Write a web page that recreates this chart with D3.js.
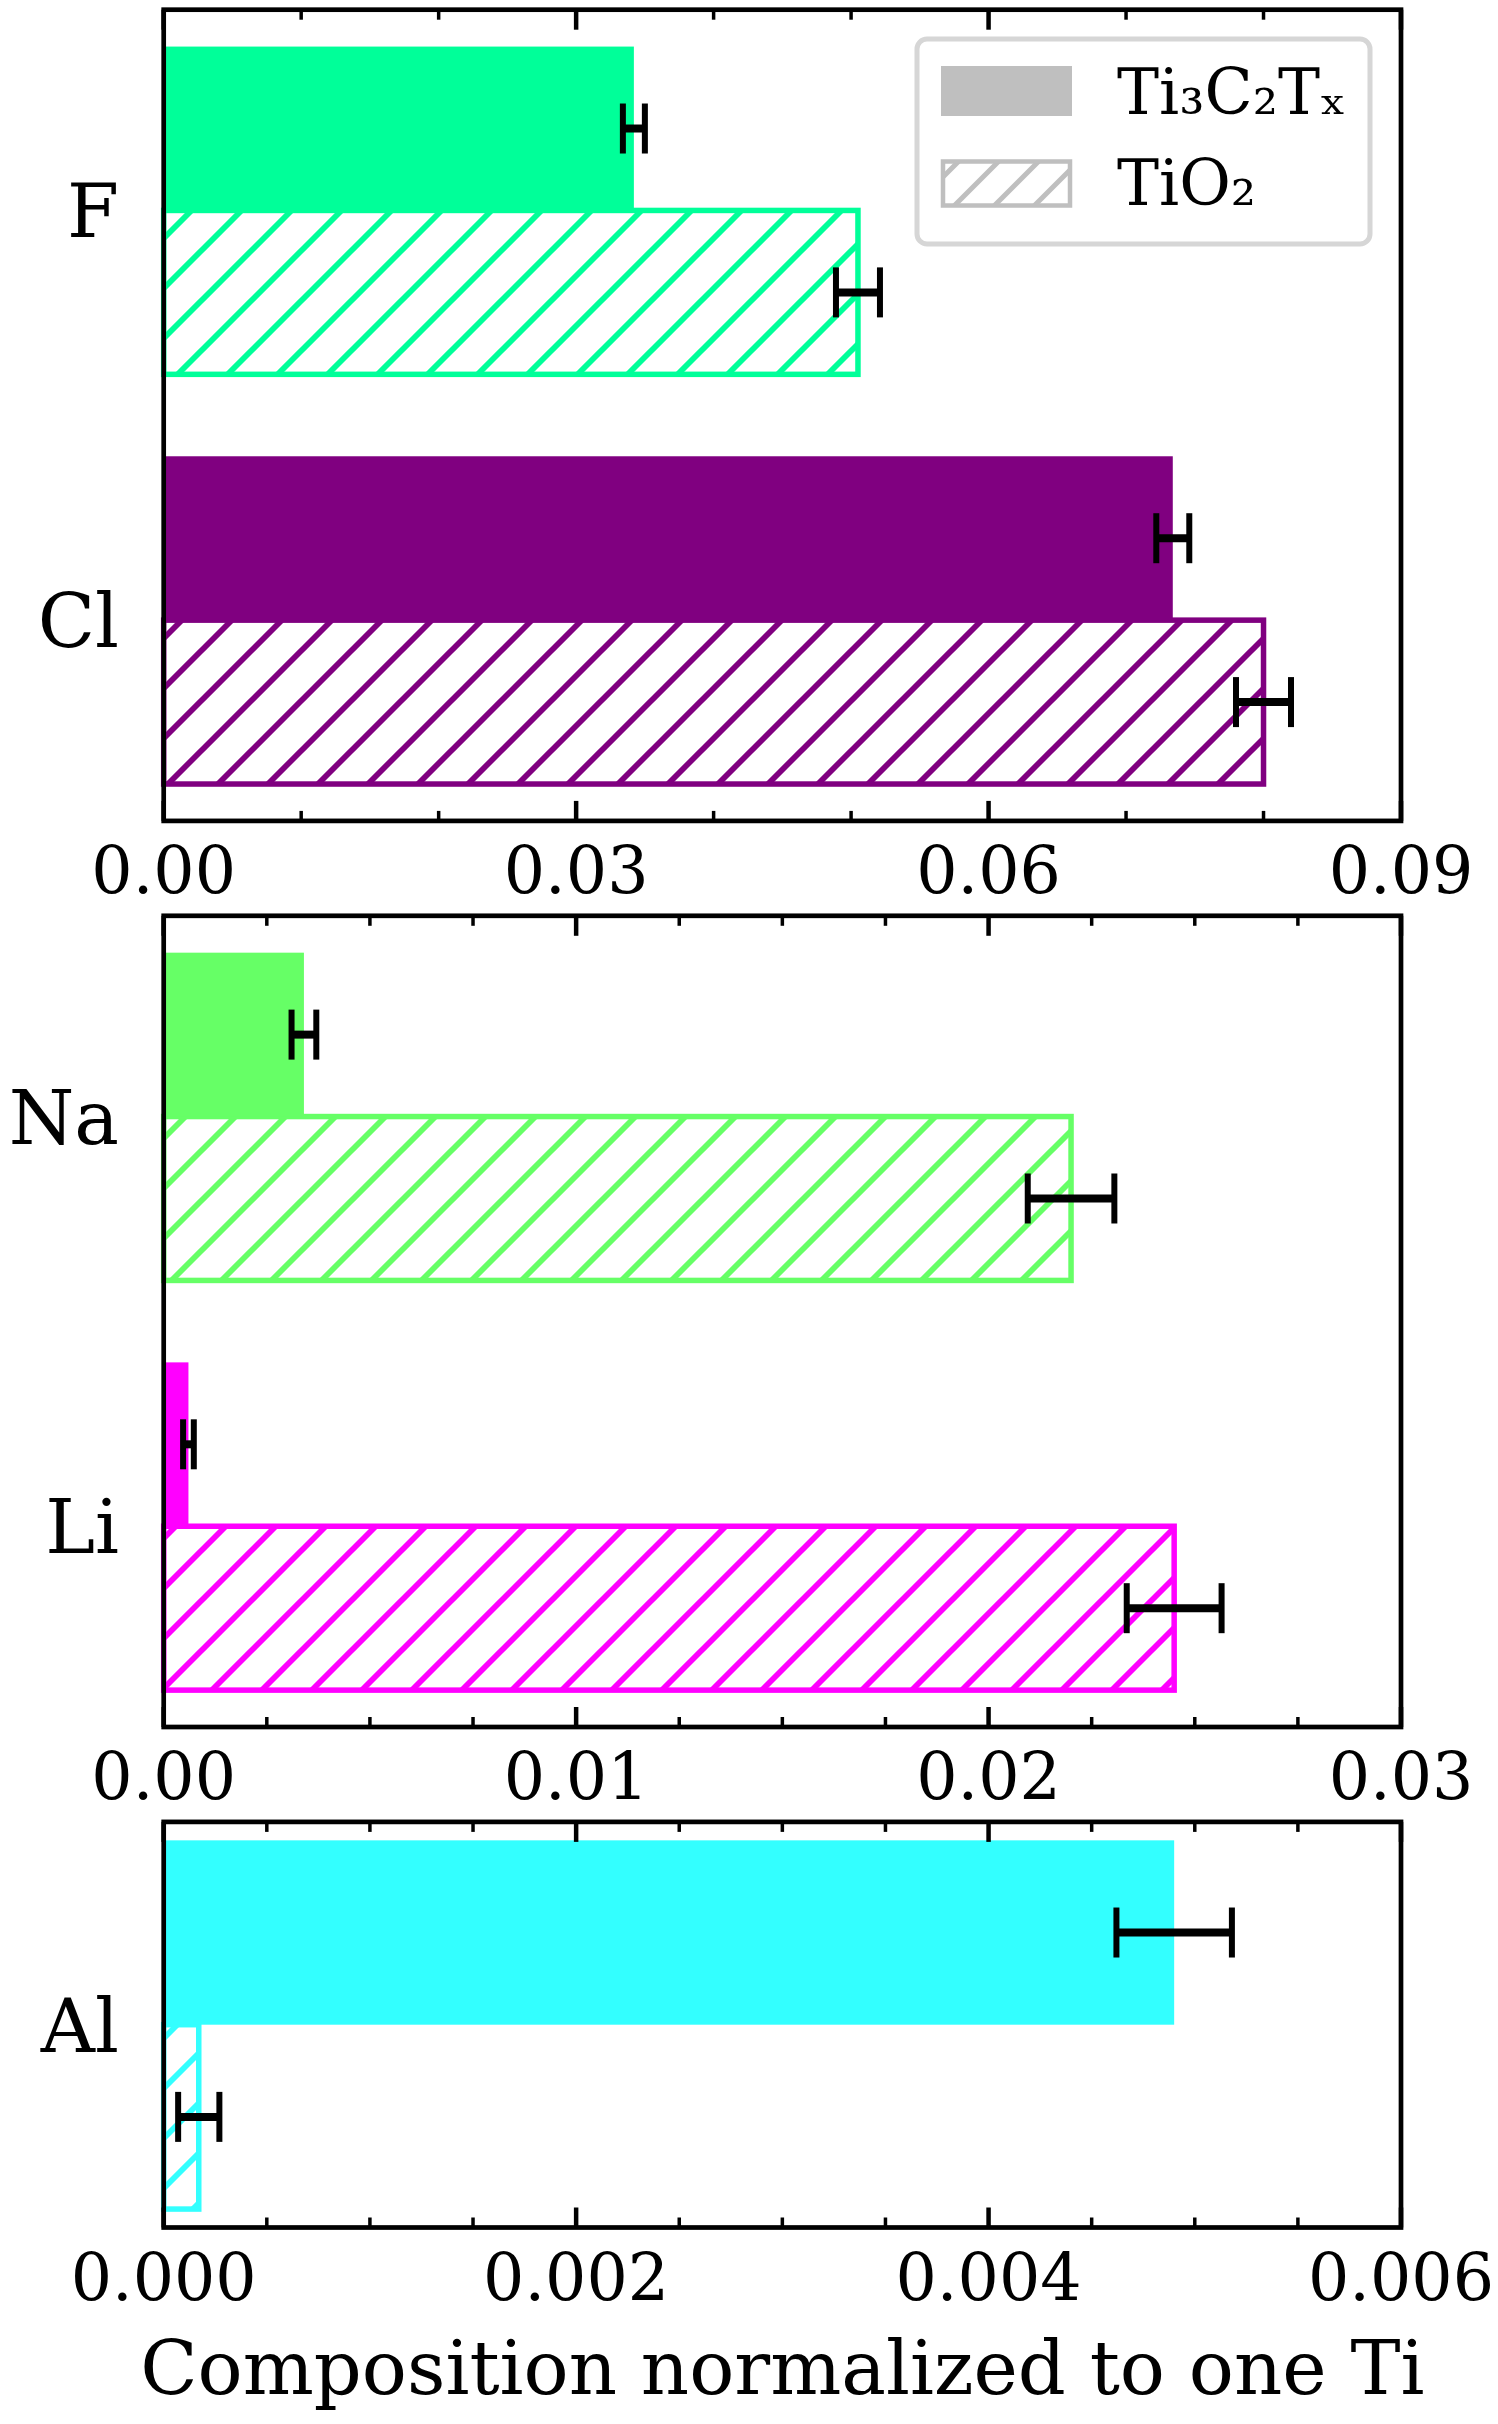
<!DOCTYPE html>
<html lang="en">
<head>
<meta charset="utf-8">
<title>Composition normalized to one Ti</title>
<script src="https://cdn.jsdelivr.net/npm/d3@7/dist/d3.min.js"></script>
<style>
  body { margin: 0; background: #fff; }
  text { font-family: "DejaVu Serif", serif; fill: #000; }
</style>
</head>
<body>
<script>

//****************************************************************************************************************************//
// Data

var elements    = ["F", "Cl", "Na", "Li", "Al"];
var panelOf     = [0, 0, 1, 1, 2];
var colors      = ["#00ff99", "#800080", "#66ff66", "#ff00ff", "#33ffff"];

var mxeneValues = [0.0342, 0.0734, 0.0034, 0.0006, 0.0049];
var mxeneErrors = [0.0008, 0.0012, 0.0003, 0.00013, 0.00028];
var tio2Values  = [0.0505, 0.0800, 0.0220, 0.0245, 0.00017];
var tio2Errors  = [0.0016, 0.0020, 0.00105, 0.00115, 0.0001];

var panelMax     = [0.09, 0.03, 0.006];
var panelTicks   = [[0, 0.03, 0.06, 0.09], [0, 0.01, 0.02, 0.03], [0, 0.002, 0.004, 0.006]];
var panelFormat  = [".2f", ".2f", ".3f"];
var panelMinor   = [0.01, 0.0025, 0.0005];

var seriesLabels = ["Ti\u2083C\u2082T\u2093", "TiO\u2082"];
var xTitle       = "Composition normalized to one Ti";

//****************************************************************************************************************************//
// Layout

var width = 1498, height = 2424;
var left = 163.7, right = 1401;
var top0 = 9.7, unit = 405.6, gap = 94.9;
var heightUnits = [2, 2, 1];
var barHeight = 0.4;

var svg = d3.select("body").append("svg")
    .attr("width", width)
    .attr("height", height);

svg.append("rect").attr("width", width).attr("height", height).attr("fill", "#fff");

var defs = svg.append("defs");

function makeHatch(id, color, size, offset, lw){
    var p = defs.append("pattern")
        .attr("id", id)
        .attr("patternUnits", "userSpaceOnUse")
        .attr("x", offset).attr("y", 0)
        .attr("width", size).attr("height", size);
    p.append("rect").attr("width", size).attr("height", size).attr("fill", "#fff");
    p.append("path")
        .attr("d", "M" + (-size/2) + "," + (size/2) + "L" + (size/2) + "," + (-size/2) +
                   "M0," + size + "L" + size + ",0" +
                   "M" + (size/2) + "," + (size*1.5) + "L" + (size*1.5) + "," + (size/2))
        .attr("stroke", color)
        .attr("stroke-width", lw)
        .attr("fill", "none");
}

colors.forEach(function(c, i){ makeHatch("hatch" + i, c, 50, 2, 5.8); });
makeHatch("hatchLegend", "#bfbfbf", 40, 0, 5);

//****************************************************************************************************************************//
// Panels

var panelTop = top0;

panelMax.forEach(function(maxVal, p){
    var ph = heightUnits[p] * unit;
    var y0 = panelTop, y1 = panelTop + ph;

    var idx = elements.map(function(e, i){ return i; }).filter(function(i){ return panelOf[i] === p; });
    var n = idx.length;
    var lo = -barHeight, hi = n - 1 + barHeight, m = 0.05 * (hi - lo);

    var x = d3.scaleLinear().domain([0, maxVal]).range([left, right]);
    var y = d3.scaleLinear().domain([lo - m, hi + m]).range([y1, y0]);

    var g = svg.append("g");

    idx.forEach(function(i, k){
        var pos = n - 1 - k;

        // TiO2 hatched bar (below the category line)
        g.append("rect")
            .attr("x", x(0))
            .attr("y", y(pos))
            .attr("width", x(tio2Values[i]) - x(0))
            .attr("height", y(pos - barHeight) - y(pos))
            .attr("fill", "url(#hatch" + i + ")")
            .attr("stroke", colors[i])
            .attr("stroke-width", 5.5);

        // Ti3C2Tx solid bar (above the category line)
        g.append("rect")
            .attr("x", x(0))
            .attr("y", y(pos + barHeight))
            .attr("width", x(mxeneValues[i]) - x(0))
            .attr("height", y(pos) - y(pos + barHeight))
            .attr("fill", colors[i]);

        // error bars
        [[mxeneValues[i], mxeneErrors[i], pos + barHeight/2],
         [tio2Values[i],  tio2Errors[i],  pos - barHeight/2]].forEach(function(d){
            var cy = y(d[2]);
            g.append("line")
                .attr("x1", x(d[0] - d[1])).attr("x2", x(d[0] + d[1]))
                .attr("y1", cy).attr("y2", cy)
                .attr("stroke", "#000").attr("stroke-width", 8);
            [d[0] - d[1], d[0] + d[1]].forEach(function(v){
                g.append("line")
                    .attr("x1", x(v)).attr("x2", x(v))
                    .attr("y1", cy - 25).attr("y2", cy + 25)
                    .attr("stroke", "#000").attr("stroke-width", 6);
            });
        });

        // category label
        g.append("text")
            .attr("x", 119)
            .attr("y", y(pos) + 27)
            .attr("text-anchor", "end")
            .attr("font-size", 75)
            .text(elements[i]);
    });

    // ticks, inward on bottom and top
    var minor = d3.range(0, maxVal + 1e-12, panelMinor[p]).filter(function(v){
        return !panelTicks[p].some(function(t){ return Math.abs(t - v) < 1e-9; });
    });
    minor.forEach(function(v){
        [[y1, -10], [y0, 10]].forEach(function(s){
            g.append("line")
                .attr("x1", x(v)).attr("x2", x(v))
                .attr("y1", s[0]).attr("y2", s[0] + s[1])
                .attr("stroke", "#000").attr("stroke-width", 3.5);
        });
    });
    panelTicks[p].forEach(function(v){
        [[y1, -20], [y0, 20]].forEach(function(s){
            g.append("line")
                .attr("x1", x(v)).attr("x2", x(v))
                .attr("y1", s[0]).attr("y2", s[0] + s[1])
                .attr("stroke", "#000").attr("stroke-width", 4.5);
        });
        g.append("text")
            .attr("x", x(v))
            .attr("y", y1 + 72)
            .attr("text-anchor", "middle")
            .attr("font-size", 65)
            .text(d3.format(panelFormat[p])(v));
    });

    // frame
    g.append("rect")
        .attr("x", left).attr("y", y0)
        .attr("width", right - left).attr("height", ph)
        .attr("fill", "none")
        .attr("stroke", "#000")
        .attr("stroke-width", 4.7);

    panelTop = y1 + gap;
});

//****************************************************************************************************************************//
// Legend

var legend = svg.append("g");

legend.append("rect")
    .attr("x", 917).attr("y", 39)
    .attr("width", 453).attr("height", 205)
    .attr("rx", 10)
    .attr("fill", "#fff")
    .attr("stroke", "#d6d6d6")
    .attr("stroke-width", 5);

legend.append("rect")
    .attr("x", 941).attr("y", 66)
    .attr("width", 131).attr("height", 50)
    .attr("fill", "#bfbfbf");

legend.append("rect")
    .attr("x", 943).attr("y", 161.5)
    .attr("width", 127).attr("height", 44)
    .attr("fill", "url(#hatchLegend)")
    .attr("stroke", "#bfbfbf")
    .attr("stroke-width", 4.5);

seriesLabels.forEach(function(s, i){
    legend.append("text")
        .attr("x", 1117)
        .attr("y", [114, 205][i])
        .attr("font-size", 63)
        .text(s);
});

//****************************************************************************************************************************//
// Axis title

svg.append("text")
    .attr("x", (left + right) / 2)
    .attr("y", 2394)
    .attr("text-anchor", "middle")
    .attr("font-size", 75)
    .text(xTitle);

</script>
</body>
</html>
